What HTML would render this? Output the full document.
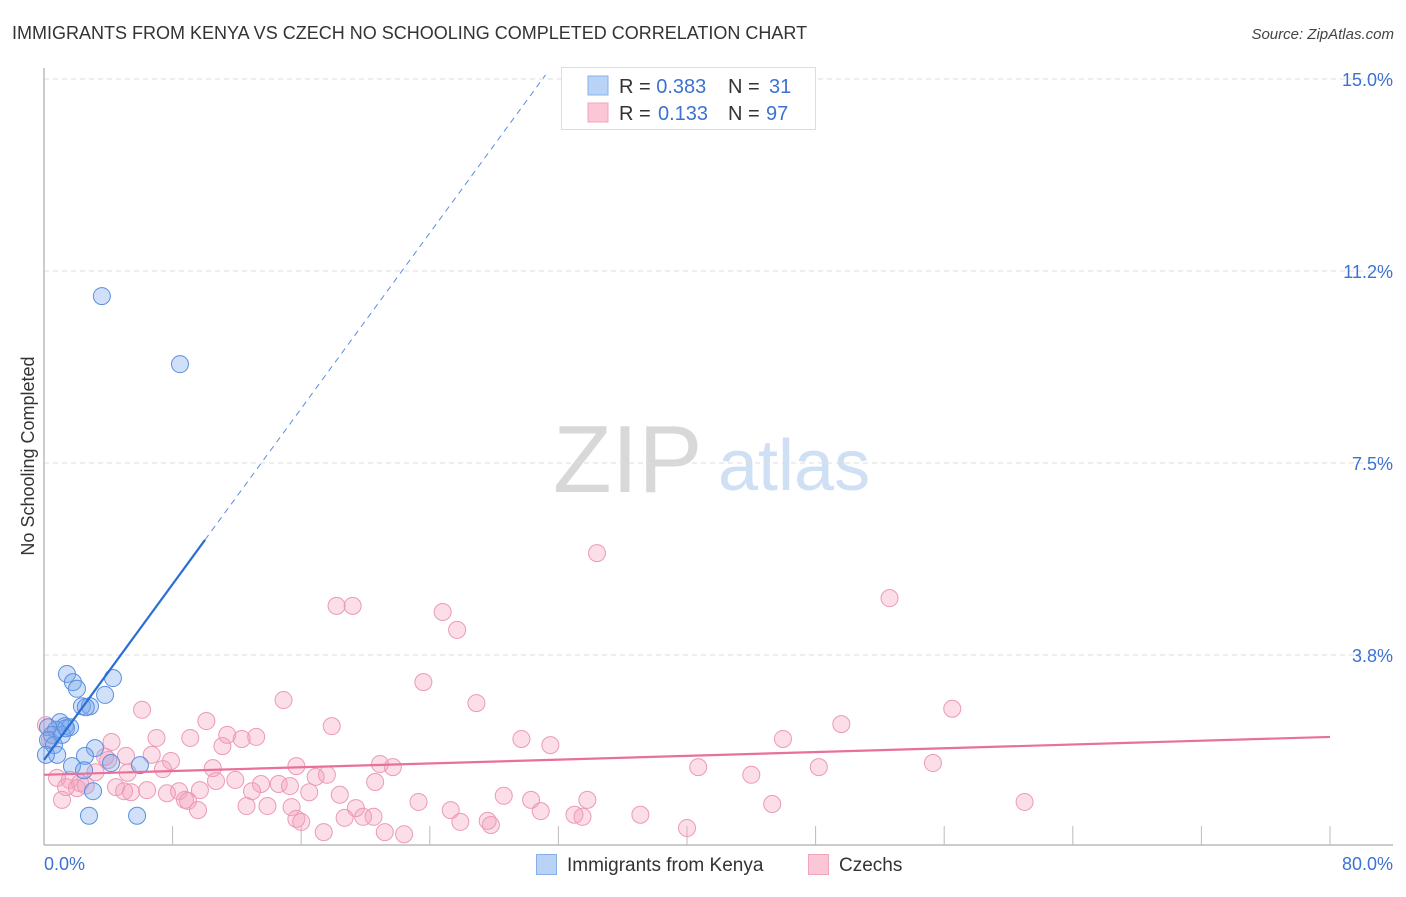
<!DOCTYPE html>
<html><head><meta charset="utf-8"><style>
body{margin:0;background:#fff;font-family:"Liberation Sans",sans-serif;}
svg text{font-family:"Liberation Sans",sans-serif;}
</style></head><body>
<svg id="chart" width="1406" height="892" xmlns="http://www.w3.org/2000/svg">
<text x="12" y="39" font-size="18" fill="#333">IMMIGRANTS FROM KENYA VS CZECH NO SCHOOLING COMPLETED CORRELATION CHART</text>
<text x="1394" y="39" font-size="15" fill="#444" font-style="italic" text-anchor="end">Source: ZipAtlas.com</text>
<g>
<text x="553" y="492" font-size="96" fill="#d8d8d8" font-family="Liberation Serif,serif">ZIP</text>
<text x="718" y="490" font-size="72" fill="#cfe0f5">atlas</text>
</g>
<g id="grid"></g>
<g id="axes"></g>
<g id="pts"></g>
<g id="trends"></g>
<text transform="translate(34,456) rotate(-90)" font-size="18" fill="#333" text-anchor="middle">No Schooling Completed</text>
<g>
<rect x="561.5" y="67.5" width="254" height="62" fill="#fff" stroke="#ddd"/>
<rect x="588" y="76" width="20" height="19" fill="#b8d3f5" stroke="#88b0e8"/>
<rect x="588" y="103" width="20" height="19" fill="#fbc6d6" stroke="#f0a5bd"/>
<text x="619" y="93" font-size="20" fill="#333">R = <tspan fill="#3c72d1">0.383</tspan><tspan x="728">N = </tspan><tspan x="769" fill="#3c72d1">31</tspan></text>
<text x="619" y="120" font-size="20" fill="#333">R = <tspan x="658" fill="#3c72d1">0.133</tspan><tspan x="728">N = </tspan><tspan x="766" fill="#3c72d1">97</tspan></text>
</g>
<g>
<rect x="536.5" y="854.5" width="20" height="20" fill="#b8d3f5" stroke="#88b0e8"/>
<text x="567" y="871" font-size="19" fill="#333">Immigrants from Kenya</text>
<rect x="808.5" y="854.5" width="20" height="20" fill="#fbc6d6" stroke="#f0a5bd"/>
<text x="839" y="871" font-size="19" fill="#333">Czechs</text>
</g>
</svg>
<script>
const xTicks=[0,8,16,24,32,40,48,56,64,72,80];
const yTicks=[3.75,7.5,11.25,15];
const yTickLabels=["3.8%","7.5%","11.2%","15.0%"];
const xTickLabels=["0.0%","80.0%"];
const kenyaX=[3.6,8.46,1.43,1.8,2.05,4.29,3.8,2.36,2.86,2.6,1.0,1.3,1.62,0.75,0.25,0.5,0.25,0.62,0.82,3.17,2.55,1.74,2.49,4.17,5.97,3.05,2.8,5.79,1.12,0.12,1.37];
const kenyaY=[10.76,9.43,3.38,3.22,3.09,3.30,2.97,2.75,2.75,2.73,2.44,2.36,2.34,2.29,2.34,2.19,2.09,1.99,1.80,1.93,1.78,1.58,1.50,1.64,1.60,1.09,0.61,0.61,2.19,1.80,2.32];
const czechX=[34.4,52.6,18.2,19.2,24.8,25.7,23.6,14.9,26.9,6.1,56.5,10.1,17.9,49.6,11.4,12.3,13.2,9.1,7.0,4.2,29.7,31.5,45.97,11.1,6.7,7.9,3.99,5.1,20.9,21.7,15.7,10.5,7.4,40.7,48.2,55.3,44.0,5.2,3.2,17.6,16.9,11.9,10.7,13.5,14.6,15.3,20.6,0.81,1.6,2.24,1.37,2.05,4.48,4.98,5.41,6.41,7.65,8.4,9.7,8.77,8.96,9.58,12.94,12.6,13.9,15.4,16.5,18.4,19.4,19.85,20.5,15.7,16.0,17.4,18.7,21.2,22.4,23.3,25.3,25.9,27.8,28.6,30.3,30.9,33.0,33.5,33.8,37.1,40.0,45.3,61.0,27.6,0.12,0.37,1.12,3.8,2.6];
const czechY=[5.74,4.86,4.71,4.71,4.59,4.24,3.22,2.87,2.81,2.68,2.70,2.46,2.36,2.40,2.19,2.11,2.15,2.13,2.13,2.05,2.11,1.99,2.11,1.97,1.80,1.68,1.70,1.78,1.62,1.56,1.58,1.54,1.52,1.56,1.56,1.64,1.41,1.45,1.46,1.41,1.37,1.31,1.29,1.23,1.23,1.19,1.27,1.35,1.31,1.25,1.17,1.15,1.17,1.09,1.07,1.11,1.05,1.09,1.11,0.92,0.90,0.72,1.09,0.80,0.80,0.78,1.07,1.02,0.76,0.59,0.59,0.55,0.49,0.29,0.57,0.29,0.25,0.88,0.72,0.49,0.43,1.0,0.92,0.70,0.63,0.59,0.92,0.63,0.37,0.84,0.88,0.51,2.38,2.09,0.92,1.76,1.2];
const kenyaTrendX=[0,10.02,31.2];
const kenyaTrendY=[1.70,6.0,15.08];
const czechTrendX=[0,80];
const czechTrendY=[1.41,2.15];
const NS="http://www.w3.org/2000/svg";
const X=v=>44+v*(1286/80);
const Y=v=>847-v*51.2;
function mk(tag,attrs,parent){const e=document.createElementNS(NS,tag);for(const k in attrs)e.setAttribute(k,attrs[k]);parent.appendChild(e);return e;}
const grid=document.getElementById('grid'),axes=document.getElementById('axes'),pts=document.getElementById('pts'),tr=document.getElementById('trends');
yTicks.forEach((t,i)=>{
 const l=mk('line',{x1:44,x2:1393,y1:Y(t),y2:Y(t),stroke:'#ddd','stroke-dasharray':'5,4'},grid);
 
 
 const tx=mk('text',{x:1393,y:Y(t)+7,'font-size':18,fill:'#3c72d1','text-anchor':'end'},axes);
 tx.textContent=yTickLabels[i];
 
 
});
const ya=mk('line',{x1:44,x2:44,y1:68,y2:845,stroke:'#bbb','stroke-width':1.5},axes);


const xa=mk('line',{x1:44,x2:1393,y1:845,y2:845,stroke:'#bbb','stroke-width':1.5},axes);


xTicks.forEach(t=>{
 const l=mk('line',{x1:X(t),x2:X(t),y1:826,y2:845,stroke:'#bbb'},axes);
 
 
});
const xl0=mk('text',{x:44,y:870,'font-size':18,fill:'#3c72d1'},axes);
xl0.textContent=xTickLabels[0];


const xl1=mk('text',{x:1393,y:870,'font-size':18,fill:'#3c72d1','text-anchor':'end'},axes);
xl1.textContent=xTickLabels[1];


czechX.forEach((v,i)=>{
 const c=mk('circle',{cx:X(v),cy:Y(czechY[i]),r:8.5,fill:'rgba(244,160,188,0.35)',stroke:'#ec9ab5','stroke-width':1},pts);
 
 
});
kenyaX.forEach((v,i)=>{
 const c=mk('circle',{cx:X(v),cy:Y(kenyaY[i]),r:8.5,fill:'rgba(120,165,235,0.35)',stroke:'#5b8fe0','stroke-width':1},pts);
 
 
});
const kb=mk('line',{x1:X(kenyaTrendX[0]),y1:Y(kenyaTrendY[0]),x2:X(kenyaTrendX[1]),y2:Y(kenyaTrendY[1]),stroke:'#2a6fd6','stroke-width':2.2},tr);


const kd=mk('line',{x1:X(kenyaTrendX[1]),y1:Y(kenyaTrendY[1]),x2:X(kenyaTrendX[2]),y2:Y(kenyaTrendY[2]),stroke:'#5b8fe0','stroke-width':1,'stroke-dasharray':'6,5'},tr);


const cz=mk('line',{x1:X(czechTrendX[0]),y1:Y(czechTrendY[0]),x2:X(czechTrendX[1]),y2:Y(czechTrendY[1]),stroke:'#e8709a','stroke-width':2.2},tr);


</script>
</body></html>
